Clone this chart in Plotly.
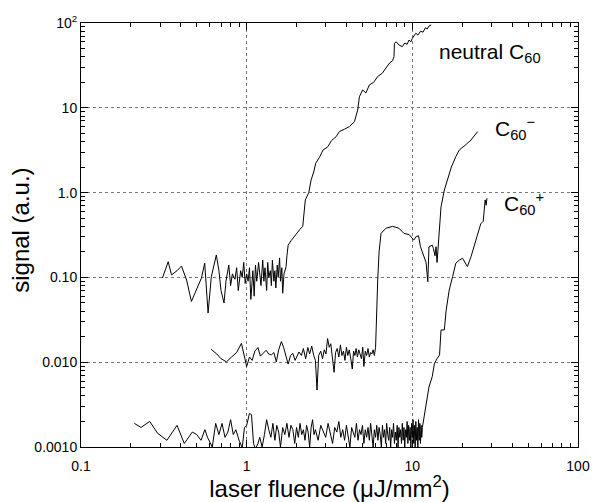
import plotly.graph_objects as go

# ---------------- data ----------------
neutral_x = [0.31, 0.336, 0.352, 0.38, 0.404, 0.434, 0.464, 0.498, 0.533, 0.558,
             0.585, 0.612, 0.656, 0.68, 0.70, 0.73, 0.75, 0.78, 0.80, 0.82,
             0.85, 0.87, 0.89, 0.92, 0.94, 0.96, 0.98, 1.00, 1.02, 1.04,
             1.06, 1.09, 1.11, 1.13, 1.15, 1.18, 1.20, 1.22, 1.25, 1.27,
             1.29, 1.32, 1.34, 1.36, 1.39, 1.41, 1.43, 1.46, 1.48, 1.50,
             1.53, 1.55, 1.58, 1.60, 1.63, 1.65, 1.68, 1.70, 1.73, 1.75,
             1.78, 1.85, 1.99, 2.10, 2.18, 2.26, 2.37, 2.45, 2.55, 2.61,
             2.75, 2.89, 3.09, 3.25, 3.47, 3.63, 3.9, 4.17, 4.47, 4.68,
             4.79, 5.01, 5.25, 5.5, 5.85, 6.17, 6.6, 6.9, 7.26, 7.6,
             7.75, 7.8, 8.0, 8.3, 8.7, 9.0, 9.3, 9.55, 9.8, 10.0,
             10.5, 10.8, 11.2, 11.6, 12.0, 12.3, 12.6, 13.0]
neutral_y = [0.098, 0.153, 0.107, 0.12, 0.136, 0.093, 0.052, 0.071, 0.098, 0.147,
             0.038, 0.102, 0.184, 0.12, 0.07, 0.05, 0.09, 0.14, 0.08, 0.11,
             0.095, 0.13, 0.07, 0.12, 0.10, 0.15, 0.085, 0.11, 0.09, 0.13,
             0.055, 0.12, 0.06, 0.14, 0.09, 0.15, 0.10, 0.08, 0.16, 0.09,
             0.13, 0.07, 0.15, 0.10, 0.12, 0.08, 0.16, 0.09, 0.12, 0.075,
             0.14, 0.10, 0.17, 0.09, 0.13, 0.065, 0.11, 0.12, 0.134, 0.18,
             0.24, 0.27, 0.33, 0.37, 0.40, 0.82, 1.0, 1.41, 1.8, 2.22,
             2.6, 3.18, 3.47, 4.1, 4.57, 5.25, 5.6, 6.0, 6.85, 9.4,
             13.5, 16.2, 15.0, 18.6, 20.0, 23.3, 25.7, 29.0, 33.5, 36.0,
             40.0, 57.6, 60.0, 55.0, 52.6, 58.0, 56.0, 63.0, 60.0, 66.0,
             75.7, 72.0, 80.0, 78.0, 88.0, 85.0, 92.0, 95.0]

anion_x = [0.61, 0.66, 0.70, 0.755, 0.81, 0.87, 0.93, 0.97, 1.00, 1.04,
           1.08, 1.12, 1.17, 1.21, 1.26, 1.31, 1.36, 1.41, 1.46, 1.51,
           1.56, 1.62, 1.67, 1.72, 1.78, 1.84, 1.90, 1.96, 2.01, 2.07,
           2.14, 2.20, 2.27, 2.34, 2.40, 2.47, 2.54, 2.60, 2.66, 2.72,
           2.80, 2.87, 2.94, 3.01, 3.08, 3.15, 3.22, 3.30, 3.37, 3.44,
           3.52, 3.60, 3.68, 3.76, 3.84, 3.92, 4.00, 4.08, 4.16, 4.25,
           4.34, 4.42, 4.50, 4.58, 4.66, 4.75, 4.84, 4.93, 5.02, 5.10,
           5.20, 5.30, 5.40, 5.50, 5.60, 5.70, 5.80, 5.90, 6.00, 6.05,
           6.10, 6.18, 6.30, 6.47, 6.93, 7.6, 8.3, 8.9, 9.56, 10.0,
           10.2, 10.5, 10.9, 11.2, 11.5, 11.8, 12.1, 12.4, 12.6, 13.2,
           13.4, 13.7, 13.9, 14.1, 14.5, 14.9, 15.6, 16.3, 17.2, 18.3,
           19.2, 20.9, 22.6, 24.8]
anion_y = [0.0142, 0.0125, 0.0110, 0.0101, 0.0115, 0.0130, 0.0167, 0.0120, 0.0089, 0.0115,
           0.0105, 0.0135, 0.0149, 0.0118, 0.0127, 0.0138, 0.0125, 0.0122, 0.0130, 0.0101,
           0.0140, 0.0175, 0.0150, 0.0118, 0.0095, 0.0120, 0.0127, 0.0105, 0.0115, 0.0132,
           0.0120, 0.0145, 0.0110, 0.0149, 0.0125, 0.0155, 0.0120, 0.0105, 0.0047, 0.0120,
           0.0135, 0.0110, 0.0140, 0.0125, 0.0190, 0.0150, 0.0165, 0.0110, 0.0076, 0.0130,
           0.0145, 0.0115, 0.0160, 0.0120, 0.0135, 0.0105, 0.0150, 0.0120, 0.0140, 0.0110,
           0.0083, 0.0135, 0.0120, 0.0145, 0.0115, 0.0140, 0.0125, 0.0110, 0.0150, 0.0089,
           0.0135, 0.0120, 0.0145, 0.0115, 0.0130, 0.0125, 0.0140, 0.0120, 0.0150, 0.0300,
           0.060, 0.093, 0.20, 0.33, 0.38, 0.40, 0.38, 0.33, 0.32, 0.29,
           0.275, 0.30, 0.31, 0.23, 0.20, 0.18, 0.15, 0.089, 0.23, 0.24,
           0.22, 0.18, 0.23, 0.15, 0.35, 0.68, 1.07, 1.41, 2.0, 2.65,
           3.18, 3.63, 4.17, 5.25]

cation_x = [0.21, 0.23, 0.26, 0.29, 0.33, 0.38, 0.42, 0.47, 0.50, 0.53,
            0.56, 0.58, 0.62, 0.65, 0.68, 0.71, 0.74, 0.77, 0.80, 0.83,
            0.86, 0.90, 0.94, 0.97, 1.00, 1.04, 1.07, 1.10, 1.13, 1.17,
            1.20, 1.24, 1.28, 1.32, 1.36, 1.40, 1.44, 1.48, 1.52, 1.56,
            1.60, 1.65, 1.70, 1.75, 1.80, 1.85, 1.90, 1.95, 2.00, 2.05,
            2.10, 2.15, 2.20, 2.25, 2.30, 2.35, 2.40, 2.45, 2.50, 2.55,
            2.60, 2.70, 2.80, 2.90, 3.00, 3.10, 3.20, 3.30, 3.40, 3.50,
            3.60, 3.70, 3.80, 3.90, 4.00, 4.10, 4.20, 4.30, 4.40, 4.50,
            4.60, 4.70, 4.80, 4.90, 5.00, 5.10, 5.20, 5.30, 5.40, 5.50,
            5.60, 5.70, 5.80, 5.90, 6.00, 6.10, 6.20, 6.30, 6.40, 6.50,
            6.60, 6.70, 6.80, 6.90, 7.00, 7.10, 7.20, 7.30, 7.40, 7.50,
            7.60, 7.70, 7.80, 7.90, 8.00, 8.10, 8.20, 8.30, 8.40, 8.50,
            8.60, 8.70, 8.80, 8.90, 9.00, 9.10, 9.20, 9.30, 9.40, 9.50,
            9.60, 9.70, 9.80, 9.90, 10.0, 10.1, 10.2, 10.3, 10.4, 10.5,
            10.6, 10.7, 10.8, 10.9, 11.0, 11.1, 11.2, 11.3, 11.4, 11.5,
            12.1, 12.6, 13.2, 13.6, 14.1, 14.6, 14.9, 15.6, 16.0, 16.7,
            17.5, 18.3, 19.2, 20.1, 21.5, 22.6, 24.2, 25.9, 26.8, 27.5,
            27.9, 28.2]
cation_y = [0.0019, 0.0017, 0.0020, 0.00145, 0.0012, 0.0018, 0.0011, 0.0015, 0.0014, 0.0012,
            0.0016, 0.0013, 0.0010, 0.0019, 0.0014, 0.0019, 0.0013, 0.0015, 0.0021, 0.0014,
            0.0016, 0.0012, 0.00098, 0.0017, 0.0018, 0.0025, 0.0024, 0.0011, 0.00095, 0.0011,
            0.0013, 0.0010, 0.0014, 0.0021, 0.0016, 0.0013, 0.0019, 0.0012, 0.0018, 0.0015,
            0.0010, 0.0017, 0.0014, 0.0019, 0.0013, 0.0018, 0.0016, 0.0011, 0.0017, 0.0013,
            0.0019, 0.0014, 0.0016, 0.0012, 0.0018, 0.0015, 0.0010, 0.0017, 0.0021, 0.0014,
            0.0016, 0.0012, 0.0018, 0.0015, 0.0013, 0.0019, 0.0014, 0.0011, 0.0017, 0.0015,
            0.0020, 0.0013, 0.0016, 0.0012, 0.0018, 0.0014, 0.0010, 0.0017, 0.0015, 0.0013,
            0.0019, 0.0012, 0.0016, 0.0014, 0.0018, 0.0011, 0.0016, 0.0013, 0.0017, 0.0012,
            0.0019, 0.0014, 0.0010, 0.0016, 0.0013, 0.0018, 0.0012, 0.0017, 0.0014, 0.0010,
            0.0018, 0.0013, 0.0016, 0.0011, 0.0019, 0.0014, 0.0012, 0.0017, 0.0010, 0.0016,
            0.0013, 0.0019, 0.0011, 0.0015, 0.0012, 0.0018, 0.0010, 0.0017, 0.0013, 0.0016,
            0.0011, 0.0019, 0.0012, 0.0017, 0.0010, 0.0016, 0.0013, 0.0020, 0.0011, 0.0018,
            0.0012, 0.0017, 0.0010, 0.0019, 0.0013, 0.0021, 0.0011, 0.0018, 0.0010, 0.0020,
            0.0012, 0.0017, 0.0010, 0.0021, 0.0012, 0.0019, 0.0011, 0.0018, 0.0013, 0.0017,
            0.0030, 0.0051, 0.0068, 0.0097, 0.0110, 0.0122, 0.024, 0.024, 0.041, 0.071,
            0.102, 0.147, 0.160, 0.168, 0.134, 0.175, 0.275, 0.43, 0.46, 0.82,
            0.71, 0.86]

x_tickvals = [0.1, 1, 10, 100]
x_ticktext = ["0.1", "1", "10", "100"]
y_tickvals = [0.001, 0.01, 0.1, 1, 10, 100]
y_ticktext = ["0.0010", "0.010", "0.10", "1.0", "10", "10<sup>2</sup>"]

series_labels = ["neutral C<sub>60</sub>", "C<sub>60</sub><sup>\u2212</sup>", "C<sub>60</sub><sup>+</sup>"]
x_title = "laser fluence (\u03bcJ/mm<sup>2</sup>)"
y_title = "signal (a.u.)"

# ---------------- figure ----------------
minor_vals = []
for dec in [0.001, 0.01, 0.1, 1, 10]:
    for m in range(2, 10):
        minor_vals.append(dec * m)

fig = go.Figure()
line = dict(color="black", width=1)
fig.add_trace(go.Scatter(x=neutral_x, y=neutral_y, mode="lines", line=line, showlegend=False))
fig.add_trace(go.Scatter(x=anion_x, y=anion_y, mode="lines", line=line, showlegend=False))
fig.add_trace(go.Scatter(x=cation_x, y=cation_y, mode="lines", line=line, showlegend=False))

font_family = "Liberation Sans, Arial, sans-serif"
axis_common = dict(
    type="log", showline=True, linecolor="black", linewidth=1, mirror="ticks",
    ticks="inside", ticklen=7, tickcolor="black", tickwidth=1, automargin=False,
    showgrid=True, gridcolor="#777777", griddash="dot", gridwidth=1,
    zeroline=False, tickfont=dict(size=14, color="black", family=font_family),
)

fig.update_xaxes(
    **axis_common, range=[-1, 2], tickvals=x_tickvals, ticktext=x_ticktext,
    ticklabelstandoff=6,
    title_text=x_title, title_standoff=6,
    title_font=dict(size=24, color="black", family=font_family),
    minor=dict(tickvals=[v for v in minor_vals if 0.1 < v < 100], ticks="inside",
               ticklen=4, tickcolor="black", showgrid=False),
)
fig.update_yaxes(
    **axis_common, range=[-3, 2], tickvals=y_tickvals, ticktext=y_ticktext,
    minor=dict(tickvals=minor_vals, ticks="inside", ticklen=4, tickcolor="black",
               showgrid=False),
)

fig.add_annotation(x=-0.121, y=0.512, xref="paper", yref="paper", text=y_title,
                   showarrow=False, textangle=-90, xanchor="center", yanchor="middle",
                   font=dict(size=24, color="black", family=font_family))

pos = [(0.716, 0.930), (0.829, 0.752), (0.847, 0.575)]
for (px, py), t in zip(pos, series_labels):
    fig.add_annotation(x=px, y=py, xref="paper", yref="paper", text=t, showarrow=False,
                       xanchor="left", yanchor="middle",
                       font=dict(size=21, color="black", family=font_family))

fig.update_layout(
    width=595, height=502, margin=dict(l=81, r=17, t=23, b=55),
    paper_bgcolor="white", plot_bgcolor="white",
    font=dict(family=font_family, color="black"),
)

fig.write_html("out.html")
